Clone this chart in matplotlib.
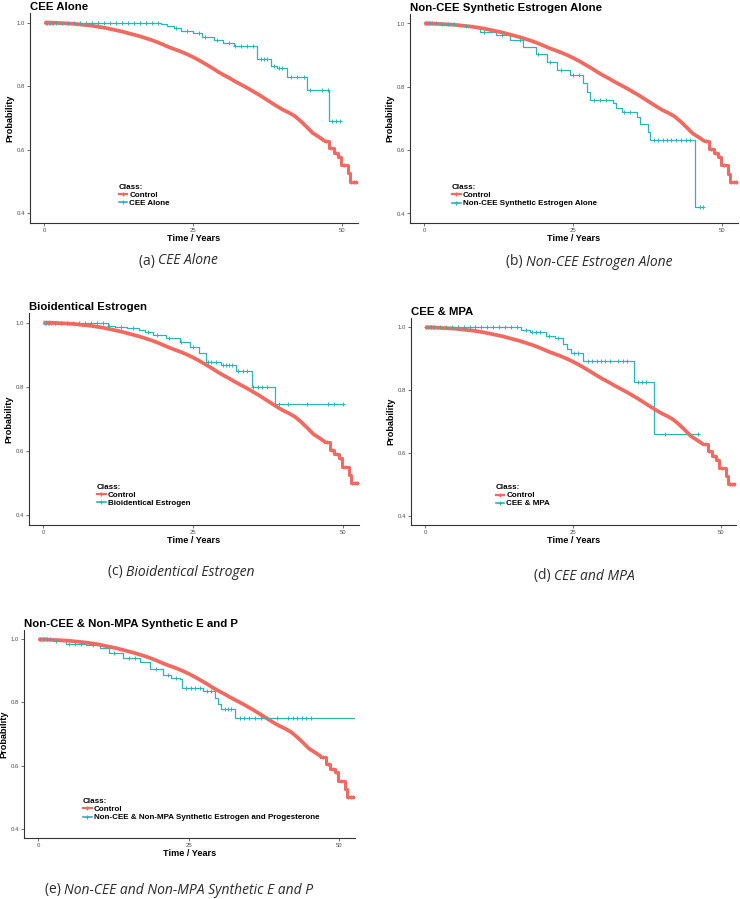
import numpy as np
import matplotlib
matplotlib.use("Agg")
from matplotlib import pyplot as plt
from matplotlib.offsetbox import TextArea, HPacker, AnnotationBbox

plt.rcParams["font.family"] = ["Liberation Sans", "DejaVu Sans"]

RED = "#EF6A60"
TEAL = "#2CB5B8"

# control curve (same in every panel)
ctrl_t = [0, 1, 2, 3, 4, 5, 6, 7, 8, 9, 10, 11, 12, 13, 14, 15, 16, 17, 18, 19,
          20, 21, 22, 23, 24, 25, 26, 27, 28, 29, 30, 31, 32, 33, 34, 35, 36, 37,
          38, 39, 40, 41, 42, 43, 44, 45, 46, 47, 47.8, 48.5, 49.2, 49.8, 50.9,
          51.2, 52.3]
ctrl_s = [1.0, 1.0, 0.999, 0.998, 0.997, 0.996, 0.994, 0.992, 0.99, 0.987, 0.984,
          0.98, 0.976, 0.972, 0.967, 0.962, 0.957, 0.951, 0.945, 0.938, 0.93, 0.922,
          0.915, 0.908, 0.9, 0.891, 0.881, 0.87, 0.859, 0.847, 0.836, 0.826, 0.815,
          0.805, 0.795, 0.784, 0.773, 0.761, 0.749, 0.737, 0.726, 0.717, 0.706,
          0.69, 0.672, 0.653, 0.641, 0.628, 0.605, 0.59, 0.578, 0.552, 0.526, 0.5,
          0.5]
ctrl_cens = [0.2, 0.8, 1.3, 47.3, 48.1, 48.9, 49.5, 50.3, 51.5, 51.9, 52.3]

# (a) CEE Alone
a_t = [0, 12, 19.5, 20.5, 21.8, 23, 25, 26.5, 28.4, 30, 31.8, 35.7, 38.0, 39.0,
       40.7, 44.0, 47.8, 49.7]
a_s = [1.0, 0.998, 0.995, 0.99, 0.982, 0.975, 0.966, 0.955, 0.945, 0.935, 0.925,
       0.885, 0.862, 0.856, 0.83, 0.788, 0.69, 0.69]
a_cens = [0.5, 1, 1.5, 2, 3, 4, 5, 6, 7, 8, 9, 10, 11, 12, 13, 14, 15, 16, 17, 18,
          19, 22, 24, 26, 27, 29, 31, 32, 33, 34, 35, 36.3, 36.8, 37.4, 38.5, 39.3,
          39.8, 41.3, 42.4, 43.5, 44.6, 46.5, 47.5, 48.3, 48.9, 49.6]

# (b) Non-CEE Synthetic Estrogen Alone
b_t = [0, 3, 6, 7.7, 9.3, 12.1, 14.4, 16.6, 18.8, 20.5, 22.2, 24.4, 26.6, 27.3,
       27.8, 31.7, 32.2, 33.2, 35.6, 36.1, 37.5, 37.8, 45.4, 46.8]
b_s = [1.0, 0.997, 0.993, 0.989, 0.974, 0.963, 0.947, 0.926, 0.905, 0.879, 0.853,
       0.837, 0.811, 0.785, 0.758, 0.748, 0.732, 0.72, 0.705, 0.684, 0.658, 0.632,
       0.421, 0.421]
b_cens = [0.5, 1, 2, 3, 4, 5, 7, 10, 13, 16, 19, 21, 23, 25, 26, 28.5, 29.5, 30.5,
          33.5, 34.5, 38.5, 39.2, 40, 40.7, 41.4, 42.2, 43, 43.8, 44.6, 46.3, 46.8]

# (c) Bioidentical Estrogen
c_t = [0, 5, 10.8, 12, 14, 16, 17, 18.3, 20.5, 22.7, 24.4, 26, 27.1, 29.6, 32.1,
       34.7, 38.6, 50.1]
c_s = [1.0, 0.998, 0.99, 0.985, 0.982, 0.977, 0.972, 0.961, 0.951, 0.94, 0.925,
       0.904, 0.878, 0.867, 0.848, 0.801, 0.747, 0.747]
c_cens = [0.5, 1, 2, 3, 4, 5, 6, 7, 8, 9, 10, 11, 13, 15, 17.5, 19, 21, 23, 25,
          27.5, 28, 28.8, 30, 30.5, 31, 31.5, 32.5, 33.3, 34, 35, 35.8, 36.5, 37.3,
          39.3, 40.8, 44, 47.5, 48.5, 50]

# (d) CEE & MPA
d_t = [0, 16.2, 17.7, 20.5, 22, 23.4, 24, 24.7, 26.7, 35.3, 38.8, 46.2]
d_s = [1.0, 0.993, 0.984, 0.974, 0.965, 0.948, 0.932, 0.918, 0.894, 0.826, 0.66,
       0.66]
d_cens = [0.5, 1, 1.5, 2.5, 3.5, 4.5, 5.5, 6.5, 7.5, 8.5, 9.5, 10.5, 11.5, 12.5,
          13.5, 14.5, 15.5, 17, 18, 18.8, 19.5, 21, 22.5, 25.2, 25.8, 27.5, 28.3,
          29, 29.8, 30.5, 31.2, 32.7, 33.5, 34.2, 36, 36.7, 37.4, 40.5, 46.2]

# (e) Non-CEE & Non-MPA Synthetic E and P
e_t = [0, 2.4, 4.6, 7.9, 10.2, 11.8, 14, 16.8, 18.5, 20.7, 22.1, 23.5, 23.9, 27.4,
       29.4, 29.8, 30.4, 32.6, 52.6]
e_s = [1.0, 0.996, 0.987, 0.982, 0.972, 0.956, 0.941, 0.93, 0.907, 0.888, 0.878,
       0.875, 0.847, 0.836, 0.814, 0.795, 0.779, 0.75, 0.75]
e_cens = [0.5, 1, 1.5, 2, 3, 5, 6, 7, 9, 12.5, 15, 16, 19.5, 21.5, 22.8, 24.5,
          25.3, 26, 26.8, 28, 28.6, 31, 31.5, 32, 33.5, 34.2, 35, 36, 37, 38, 39.7,
          41.5, 42.3, 43, 43.8, 44.5, 45.3]

titles = ["CEE Alone", "Non-CEE Synthetic Estrogen Alone", "Bioidentical Estrogen",
          "CEE & MPA", "Non-CEE & Non-MPA Synthetic E and P"]
labels = ["CEE Alone", "Non-CEE Synthetic Estrogen Alone", "Bioidentical Estrogen",
          "CEE & MPA", "Non-CEE & Non-MPA Synthetic Estrogen and Progesterone"]
tags = ["(a)", "(b)", "(c)", "(d)", "(e)"]
caps = ["CEE Alone", "Non-CEE Estrogen Alone", "Bioidentical Estrogen",
        "CEE and MPA", "Non-CEE and Non-MPA Synthetic E and P"]
treat = [(a_t, a_s, a_cens), (b_t, b_s, b_cens), (c_t, c_s, c_cens),
         (d_t, d_s, d_cens), (e_t, e_s, e_cens)]

W, H = 740, 899
# axes boxes in pixels: left, top, right, bottom
boxes = [(30, 13, 358, 223), (410, 14, 738, 223), (29, 313, 359, 525),
         (411, 318, 736, 525), (24, 630, 355, 838)]
leg_pos = [(0.27, 0.075), (0.128, 0.075), (0.206, 0.085), (0.26, 0.085),
           (0.178, 0.08)]
cap_pos = [(139, 261), (506, 262), (108, 572), (534, 576), (45, 890)]


def surv_at(t, s, x):
    idx = np.searchsorted(t, x, side="right") - 1
    return np.asarray(s)[idx]


# the control has many tiny steps: body drawn as a line, tail as steps
ct = np.array(ctrl_t)
cs = np.array(ctrl_s)
body = ct <= 47
tail = ct >= 47

fig = plt.figure(figsize=(W / 100, H / 100), dpi=100)

for i in range(5):
    l, tp, r, b = boxes[i]
    ax = fig.add_axes([l / W, 1 - b / H, (r - l) / W, (b - tp) / H])
    tt, ss, cc = treat[i]

    ax.step(tt, ss, where="post", color=TEAL, lw=0.9, zorder=2)
    ax.plot(ct[body], cs[body], color=RED, lw=2.7, zorder=3,
            solid_capstyle="butt")
    ax.step(ct[tail], cs[tail], where="post", color=RED, lw=2.2, zorder=3)
    ax.plot(ctrl_cens, surv_at(ctrl_t, ctrl_s, ctrl_cens), "+", color=RED,
            ms=3.5, mew=1.0, zorder=3)
    ax.plot(cc, surv_at(tt, ss, cc), "+", color=TEAL, ms=3, mew=0.7, zorder=4)

    # legend proxies
    h1, = ax.plot([], [], color=RED, lw=1.6, marker="+", ms=3.5, mew=1.0)
    h2, = ax.plot([], [], color=TEAL, lw=1.2, marker="+", ms=3.5, mew=0.8)
    ax.legend([h1, h2], ["Control", labels[i]], title="Class:",
              loc="lower left", bbox_to_anchor=leg_pos[i], frameon=False,
              prop={"weight": "bold", "size": 5.8},
              title_fontproperties={"weight": "bold", "size": 5.8},
              handlelength=1.1, handletextpad=0.25, labelspacing=0.05,
              borderpad=0, borderaxespad=0, alignment="left")

    ax.set_xlim(-2.4, 52.6)
    ax.set_ylim(0.37, 1.03)
    ax.set_xticks([0, 25, 50])
    ax.set_yticks([0.4, 0.6, 0.8, 1.0])
    ax.set_yticklabels(["0.4", "0.6", "0.8", "1.0"])
    ax.tick_params(labelsize=4.3, length=2, width=0.5, pad=1.5, colors="#333333",
                   labelcolor="#4D4D4D")
    for sp in ["top", "right"]:
        ax.spines[sp].set_visible(False)
    for sp in ["left", "bottom"]:
        ax.spines[sp].set_linewidth(0.8)
        ax.spines[sp].set_color("#333333")

    ax.set_xlabel("Time / Years", fontsize=6.6, fontweight="bold", labelpad=1)
    ax.set_ylabel("Probability", fontsize=6.6, fontweight="bold", labelpad=2)
    ax.set_title(titles[i], loc="left", fontsize=8.2, fontweight="bold", pad=2)

    # caption below panel
    cx, cy = cap_pos[i]
    part1 = TextArea(tags[i] + " ", textprops=dict(family="Open Sans", size=10,
                                                    color="#2A2A2A"))
    part2 = TextArea(caps[i], textprops=dict(family="Open Sans", size=10,
                                              style="italic", color="#2A2A2A"))
    box = HPacker(children=[part1, part2], align="baseline", pad=0, sep=0)
    ab = AnnotationBbox(box, (cx / W, 1 - cy / H), xycoords="figure fraction",
                        box_alignment=(0, 0.5), frameon=False, pad=0)
    fig.add_artist(ab)

fig.savefig("out.png", dpi=100)
